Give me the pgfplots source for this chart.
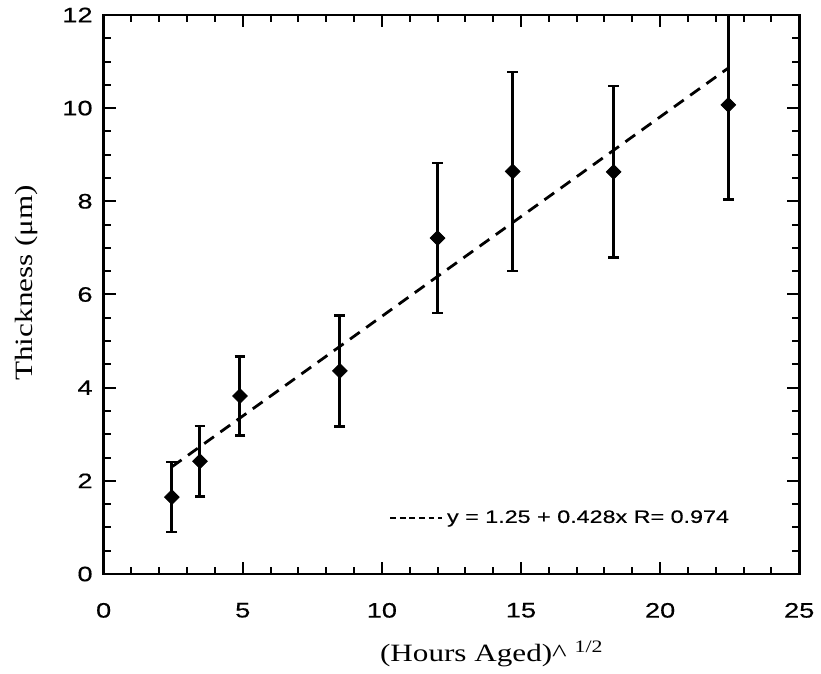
\documentclass[border=0pt]{standalone}
\usepackage{fontspec}
\setmainfont{Liberation Serif}[FakeStretch=1.25]
\newfontfamily\geneva{Liberation Sans}[FakeStretch=1.3, FakeBold=0.4]
\usepackage{pgfplots}
\usepackage{pgfplotstable}
\pgfplotsset{compat=1.18}

% sqrt(hours), thickness, error
\pgfplotstableread{
x      y      e
2.45   1.65   0.75
3.46   2.42   0.76
4.90   3.82   0.85
8.49   4.36   1.19
12.00  7.21   1.61
14.70  8.64   2.14
18.33  8.63   1.84
22.45  10.07  2.03
}\thick

\begin{document}
\begin{tikzpicture}
\begin{axis}[
  scale only axis,
  width=349pt, height=280.5pt,
  xmin=0, xmax=25, ymin=0, ymax=12,
  xtick={0,5,...,25}, ytick={0,2,...,12},
  minor x tick num=4, minor y tick num=3,
  tick align=inside,
  major tick length=6pt, minor tick length=3.5pt,
  tick style={line width=1pt, black},
  axis line style={line width=1.4pt},
  ticklabel style={font=\geneva\fontsize{10.5}{12}\selectfont},
  /pgf/number format/assume math mode=true,
  xticklabel style={yshift=-11pt},
  yticklabel style={xshift=-2pt},
  xlabel={(Hours Aged)\textasciicircum\ \textsuperscript{1/2}},
  ylabel={Thickness (μm)},
  label style={font=\fontsize{12.5}{14}\selectfont},
  xlabel style={at={(rel axis cs:0.558,-0.1426)}, anchor=center},
  ylabel style={at={(rel axis cs:-0.1103,0.521)}, anchor=center},
  legend style={at={(rel axis cs:0.41,0.1)}, anchor=west, draw=none, fill=none,
    inner sep=0pt, font=\geneva\fontsize{9}{10}\selectfont},
  legend image code/.code={\draw[line width=1pt, dash pattern=on 3pt off 1.8pt] (0pt,0pt) -- (26pt,0pt);},
]
\addplot[black, line width=1.4pt, dash pattern=on 6pt off 4pt]
  coordinates {(2.45,2.30) (22.45,10.86)};
\addlegendentry{y = 1.25 + 0.428x R= 0.974}

\addplot[forget plot, black, only marks, mark=square*,
  mark options={rotate=45, fill=black, solid}, mark size=2.6pt,
  error bars/.cd, y dir=both, y explicit,
  error bar style={line width=1.5pt},
  error mark options={rotate=90, mark size=2.7pt, line width=1.2pt}]
  table[x=x, y=y, y error=e] {\thick};
\end{axis}
\path ([shift={(-52pt,-48.5pt)}]current axis.south west) rectangle ([shift={(9.5pt,7.5pt)}]current axis.north east);
\end{tikzpicture}
\end{document}
